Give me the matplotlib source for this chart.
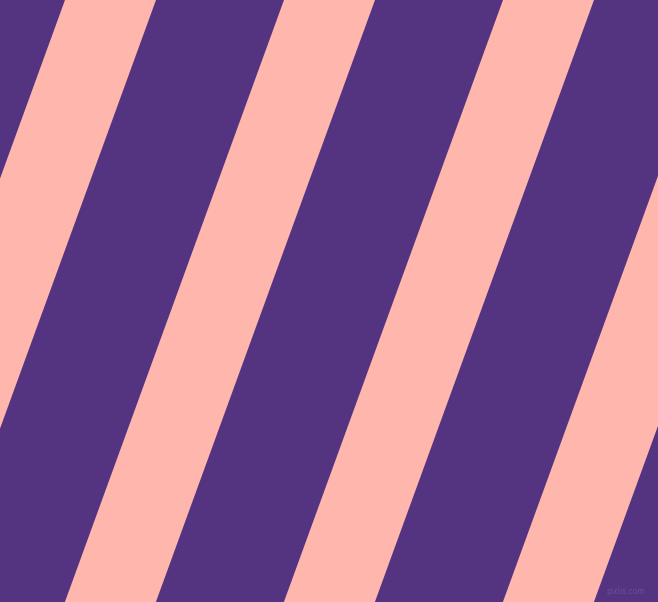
import numpy as np
import matplotlib
matplotlib.use("Agg")
import matplotlib.pyplot as plt

# Canvas size in pixels.
width_px, height_px = 658, 602

# Stripe pattern (pixel units, measured along the top edge).
stripe_angle = 70          # degrees from horizontal
stripe_period = 219.0      # horizontal distance from one pink band to the next
pink_width = 91.0          # horizontal width of a pink band
first_left_edge = 65.0     # x of the first pink band's left edge at the top

purple = "#543481"
pink = "#feb6ad"

fig = plt.figure(figsize=(width_px / 100, height_px / 100), dpi=100)
ax = fig.add_axes([0, 0, 1, 1])
ax.set_xlim(0, width_px)
ax.set_ylim(height_px, 0)
ax.axis("off")
ax.add_patch(plt.Rectangle((0, 0), width_px, height_px, color=purple, zorder=0))

# Each band leans to the left going down.
shift = height_px / np.tan(np.radians(stripe_angle))
starts = np.arange(first_left_edge - 2 * stripe_period, width_px + shift + stripe_period, stripe_period)
for x0 in starts:
    xs = [x0, x0 + pink_width, x0 + pink_width - shift, x0 - shift]
    ys = [0, 0, height_px, height_px]
    ax.fill(xs, ys, color=pink, lw=0, zorder=1)

ax.text(645, 592, "pixlis.com", color="#6b4f97", fontsize=5.5, ha="right", va="center", zorder=2)

fig.savefig("out.png", dpi=100)
